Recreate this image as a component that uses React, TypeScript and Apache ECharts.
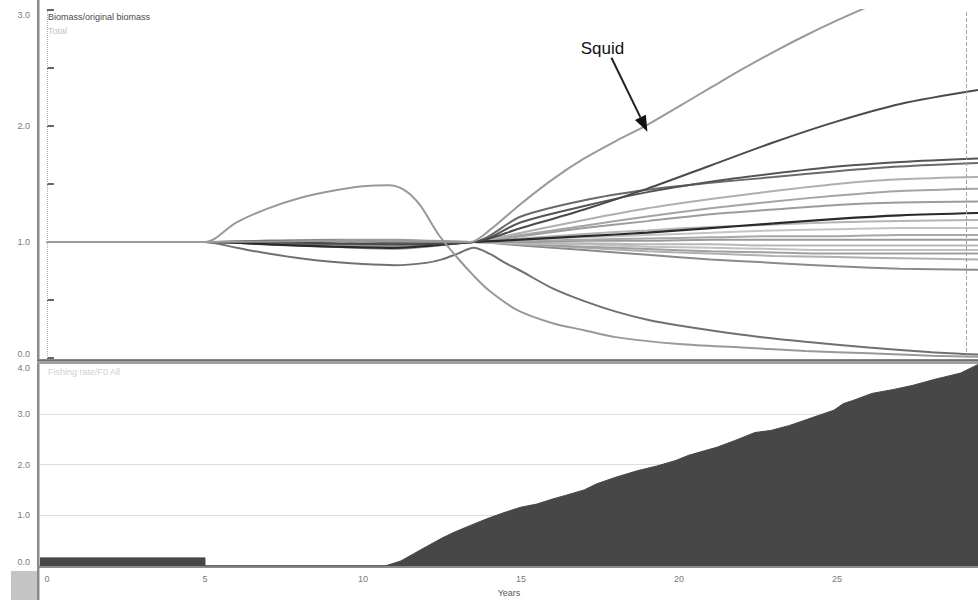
import React, { useEffect, useRef } from "react";
import * as echarts from "echarts";

// ---------- data ----------
const YEARS = [0, 5, 7, 9, 11, 13.5, 15, 17, 19, 21, 23, 25, 27, 29.46];

const group02 = [1, 1, 1.0, 0.99, 0.98, 1.0, 1.12, 1.28, 1.46, 1.66, 1.86, 2.04, 2.19, 2.31];
const group03 = [1, 1, 1.01, 1.01, 1.0, 1.0, 1.17, 1.31, 1.43, 1.52, 1.59, 1.65, 1.69, 1.72];
const group04 = [1, 1, 0.99, 0.98, 0.98, 1.0, 1.22, 1.36, 1.45, 1.51, 1.56, 1.61, 1.65, 1.68];
const group05 = [1, 1, 1.0, 0.99, 0.98, 1.0, 1.08, 1.19, 1.29, 1.37, 1.44, 1.5, 1.54, 1.56];
const group06 = [1, 1, 0.99, 0.97, 0.96, 1.0, 1.06, 1.14, 1.22, 1.29, 1.35, 1.4, 1.44, 1.46];
const group07 = [1, 1, 1.0, 0.98, 0.97, 1.0, 1.05, 1.12, 1.18, 1.24, 1.28, 1.32, 1.34, 1.35];
const group08 = [1, 1, 0.98, 0.96, 0.95, 1.0, 1.02, 1.05, 1.08, 1.12, 1.16, 1.2, 1.23, 1.25];
const group09 = [1, 1, 0.99, 0.97, 0.96, 1.0, 1.03, 1.07, 1.1, 1.13, 1.15, 1.17, 1.18, 1.19];
const group10 = [1, 1, 0.99, 0.97, 0.95, 1.0, 1.02, 1.04, 1.06, 1.08, 1.1, 1.11, 1.12, 1.12];
const group11 = [1, 1, 0.98, 0.96, 0.94, 1.0, 1.01, 1.02, 1.03, 1.04, 1.05, 1.05, 1.06, 1.06];
const group12 = [1, 1, 1.01, 1.02, 1.02, 1.0, 1.0, 1.01, 1.01, 1.02, 1.02, 1.02, 1.02, 1.02];
const group13 = [1, 1, 0.99, 0.98, 0.97, 1.0, 0.99, 0.99, 0.98, 0.98, 0.97, 0.97, 0.97, 0.97];
const group14 = [1, 1, 0.98, 0.96, 0.95, 1.0, 0.99, 0.98, 0.96, 0.95, 0.94, 0.93, 0.93, 0.93];
const group15 = [1, 1, 0.99, 0.97, 0.96, 1.0, 0.98, 0.96, 0.94, 0.92, 0.91, 0.9, 0.9, 0.9];
const group16 = [1, 1, 1.0, 1.01, 1.01, 1.0, 0.98, 0.95, 0.92, 0.9, 0.88, 0.87, 0.86, 0.85];
const group17 = [1, 1, 0.99, 0.98, 0.97, 1.0, 0.97, 0.93, 0.89, 0.85, 0.82, 0.79, 0.77, 0.76];

const SQUID: [number, number][] = [
  [0, 1], [5, 1], [9, 1.01], [13.4, 1.0], [14, 1.1], [15, 1.33], [16, 1.54], [17, 1.72],
  [18, 1.87], [19, 2.01], [20, 2.17], [21, 2.33], [22, 2.49], [23, 2.64], [24, 2.78],
  [25, 2.91], [26, 3.03], [28, 3.25], [29.46, 3.4],
];

const PREDATOR: [number, number][] = [
  [0, 1], [5, 1], [6, 1.17], [7, 1.29], [8, 1.38], [9, 1.44], [10, 1.48], [10.8, 1.49],
  [11.3, 1.45], [11.8, 1.32], [12.4, 1.06], [13, 0.86], [13.5, 0.71], [14, 0.58],
  [14.9, 0.41], [16, 0.3], [17, 0.24], [18, 0.18], [20, 0.12], [22, 0.09], [24, 0.06],
  [26, 0.04], [28, 0.02], [29.46, 0.01],
];

const PREY: [number, number][] = [
  [0, 1], [5, 1], [6, 0.95], [7, 0.9], [8, 0.86], [9, 0.83], [10, 0.81], [11, 0.8],
  [12, 0.82], [12.5, 0.85], [13, 0.9], [13.5, 0.95], [14, 0.9], [14.5, 0.82],
  [15, 0.75], [16, 0.6], [17, 0.49], [18, 0.4], [19, 0.33], [20, 0.28], [22, 0.2],
  [24, 0.14], [26, 0.09], [28, 0.05], [29.46, 0.03],
];

const FISHING_RATE: [number, number][] = [
  [-0.22, 0.16], [5, 0.16], [5, 0], [10.7, 0], [11.2, 0.1], [11.6, 0.24], [12.0, 0.38],
  [12.5, 0.55], [12.9, 0.67], [13.4, 0.8], [14.0, 0.95], [14.5, 1.06], [15.0, 1.16],
  [15.5, 1.22], [16.0, 1.32], [16.4, 1.39], [17.0, 1.5], [17.4, 1.62], [18.0, 1.75],
  [18.7, 1.88], [19.3, 1.97], [19.9, 2.08], [20.3, 2.18], [20.8, 2.27], [21.2, 2.34],
  [21.8, 2.48], [22.4, 2.63], [22.9, 2.67], [23.5, 2.77], [24.2, 2.92], [24.9, 3.07],
  [25.2, 3.2], [25.5, 3.26], [26.1, 3.4], [26.8, 3.48], [27.4, 3.56], [28.1, 3.68],
  [28.9, 3.8], [29.46, 3.97],
];

const X_TICKS = [0, 5, 10, 15, 20, 25];
const BIOMASS_TICKS = [0, 1, 2, 3];
const FISHING_TICKS = [0, 1, 2, 3, 4];

const X_MIN = -0.22;
const X_MAX = 29.46;

// ---------- styles ----------
const BUNDLE = [
  { name: "Group 17", data: group17, color: "#8a8a8a", width: 2 },
  { name: "Group 16", data: group16, color: "#b0b0b0", width: 2 },
  { name: "Group 15", data: group15, color: "#a0a0a0", width: 2 },
  { name: "Group 14", data: group14, color: "#c0c0c0", width: 2 },
  { name: "Group 13", data: group13, color: "#b8b8b8", width: 2 },
  { name: "Group 12", data: group12, color: "#9a9a9a", width: 2 },
  { name: "Group 11", data: group11, color: "#a8a8a8", width: 2 },
  { name: "Group 10", data: group10, color: "#c4c4c4", width: 2 },
  { name: "Group 09", data: group09, color: "#b4b4b4", width: 2 },
  { name: "Group 07", data: group07, color: "#9c9c9c", width: 2 },
  { name: "Group 06", data: group06, color: "#a4a4a4", width: 2 },
  { name: "Group 05", data: group05, color: "#b0b0b0", width: 2 },
  { name: "Group 04", data: group04, color: "#6a6a6a", width: 2 },
  { name: "Group 03", data: group03, color: "#555555", width: 2 },
  { name: "Group 08", data: group08, color: "#2a2a2a", width: 2.2 },
  { name: "Group 02", data: group02, color: "#4a4a4a", width: 2 },
];

const FONT = "'Liberation Sans', Arial, sans-serif";
const LABEL = { color: "#7a7a7a", fontSize: 9, fontFamily: FONT };

export default function App() {
  const ref = useRef<HTMLDivElement>(null);

  useEffect(() => {
    if (!ref.current) return;
    const chart = echarts.init(ref.current, null, { renderer: "svg" });

    const lineSeries = BUNDLE.map((b, i) => ({
      name: b.name,
      type: "line",
      xAxisIndex: 0,
      yAxisIndex: 0,
      data: YEARS.map((t, k) => [t, b.data[k]]),
      smooth: 0.3,
      showSymbol: false,
      lineStyle: { color: b.color, width: b.width },
      z: 2 + i * 0.01,
      ...(i === 0
        ? {
            markLine: {
              symbol: "none",
              silent: true,
              label: { show: false },
              data: [
                { xAxis: 0, lineStyle: { type: "dotted", color: "#b0b0b0", width: 1 } },
                { xAxis: 29.1, lineStyle: { type: "dashed", color: "#a0a0a0", width: 1 } },
              ],
            },
          }
        : {}),
    }));

    const option: any = {
      animation: false,
      backgroundColor: "#ffffff",
      grid: [
        { left: 40, right: 0, top: 10, height: 348 },
        { left: 40, right: 0, top: 363, height: 203 },
      ],
      xAxis: [
        {
          type: "value",
          gridIndex: 0,
          min: X_MIN,
          max: X_MAX,
          show: false,
        },
        {
          type: "value",
          gridIndex: 1,
          min: X_MIN,
          max: X_MAX,
          name: "Years",
          nameLocation: "middle",
          nameGap: 22,
          nameTextStyle: { color: "#555", fontSize: 9, fontFamily: FONT },
          axisLine: { show: true, lineStyle: { color: "#8c8c8c", width: 3 } },
          axisTick: { show: false },
          splitLine: { show: false },
          axisLabel: {
            ...LABEL,
            margin: 8,
            customValues: X_TICKS,
            formatter: (v: number) => String(v),
          },
        },
      ],
      yAxis: [
        {
          type: "value",
          gridIndex: 0,
          min: 0,
          max: 3,
          interval: 0.5,
          axisLine: { show: false },
          axisTick: {
            show: true,
            inside: true,
            length: 7,
            lineStyle: { color: "#333", width: 1.5 },
          },
          splitLine: { show: false },
          axisLabel: {
            ...LABEL,
            margin: 10,
            customValues: BIOMASS_TICKS,
            formatter: (v: number) => v.toFixed(1),
            verticalAlignMinLabel: "bottom",
            verticalAlignMaxLabel: "top",
          },
        },
        {
          type: "value",
          gridIndex: 1,
          min: 0,
          max: 4,
          interval: 1,
          axisLine: { show: false },
          axisTick: { show: false },
          splitLine: { show: true, lineStyle: { color: "#dedede", width: 1 } },
          axisLabel: {
            ...LABEL,
            margin: 10,
            customValues: FISHING_TICKS,
            formatter: (v: number) => v.toFixed(1),
            verticalAlignMinLabel: "bottom",
            verticalAlignMaxLabel: "top",
          },
        },
      ],
      series: [
        ...lineSeries,
        {
          name: "Prey",
          type: "line",
          xAxisIndex: 0,
          yAxisIndex: 0,
          data: PREY,
          smooth: 0.3,
          showSymbol: false,
          lineStyle: { color: "#707070", width: 2 },
          z: 3,
        },
        {
          name: "Predator",
          type: "line",
          xAxisIndex: 0,
          yAxisIndex: 0,
          data: PREDATOR,
          smooth: 0.3,
          showSymbol: false,
          lineStyle: { color: "#999999", width: 2 },
          z: 3,
        },
        {
          name: "Squid",
          type: "line",
          xAxisIndex: 0,
          yAxisIndex: 0,
          data: SQUID,
          smooth: 0.3,
          showSymbol: false,
          clip: true,
          lineStyle: { color: "#9a9a9a", width: 2 },
          z: 3,
        },
        {
          name: "Fishing rate",
          type: "line",
          xAxisIndex: 1,
          yAxisIndex: 1,
          data: FISHING_RATE,
          showSymbol: false,
          lineStyle: { color: "#474747", width: 1 },
          areaStyle: { color: "#474747", opacity: 1 },
          z: 3,
        },
      ],
    };

    chart.setOption(option);

    const tip = chart.convertToPixel({ gridIndex: 0 }, [19.0, 1.95]) as number[];
    const tx = tip[0];
    const ty = tip[1];
    const dx = 36;
    const dy = 74;
    const len = Math.sqrt(dx * dx + dy * dy);
    const ux = dx / len;
    const uy = dy / len;
    const headL = 16;
    const headW = 6;
    const bx = tx - ux * headL;
    const by = ty - uy * headL;

    chart.setOption({
      graphic: [
        {
          type: "rect",
          shape: { x: 37, y: 0, width: 2.5, height: 600 },
          style: { fill: "#8a8a8a" },
          silent: true,
          z: 10,
        },
        {
          type: "rect",
          shape: { x: 37, y: 359, width: 941, height: 5 },
          style: { fill: "#a0a0a0" },
          silent: true,
          z: 10,
        },
        {
          type: "rect",
          shape: { x: 37, y: 359.5, width: 941, height: 1.5 },
          style: { fill: "#6e6e6e" },
          silent: true,
          z: 11,
        },
        {
          type: "rect",
          shape: { x: 11, y: 571, width: 26, height: 29 },
          style: { fill: "#c4c4c4" },
          silent: true,
          z: 10,
        },
        {
          type: "text",
          x: 48,
          y: 12,
          style: { text: "Biomass/original biomass", fill: "#4a4a4a", fontSize: 9, fontFamily: FONT },
          silent: true,
          z: 10,
        },
        {
          type: "text",
          x: 48,
          y: 26,
          style: { text: "Total", fill: "#c4c4c4", fontSize: 9, fontFamily: FONT },
          silent: true,
          z: 10,
        },
        {
          type: "text",
          x: 48,
          y: 367,
          style: { text: "Fishing rate/F0 All", fill: "#cfcfcf", fontSize: 9, fontFamily: FONT },
          silent: true,
          z: 10,
        },
        {
          type: "text",
          x: tx - 45,
          y: ty - 83,
          style: {
            text: "Squid",
            fill: "#111",
            fontSize: 17,
            fontFamily: FONT,
            align: "center",
            verticalAlign: "middle",
          },
          silent: true,
          z: 12,
        },
        {
          type: "line",
          shape: { x1: tx - dx, y1: ty - dy, x2: bx, y2: by },
          style: { stroke: "#222", lineWidth: 2 },
          silent: true,
          z: 12,
        },
        {
          type: "polygon",
          shape: {
            points: [
              [tx, ty],
              [bx - uy * headW, by + ux * headW],
              [bx + uy * headW, by - ux * headW],
            ],
          },
          style: { fill: "#111" },
          silent: true,
          z: 12,
        },
      ],
    });

    return () => chart.dispose();
  }, []);

  return (
    <div
      ref={ref}
      style={{ position: "absolute", left: 0, top: 0, width: 978, height: 600, background: "#fff" }}
    />
  );
}
